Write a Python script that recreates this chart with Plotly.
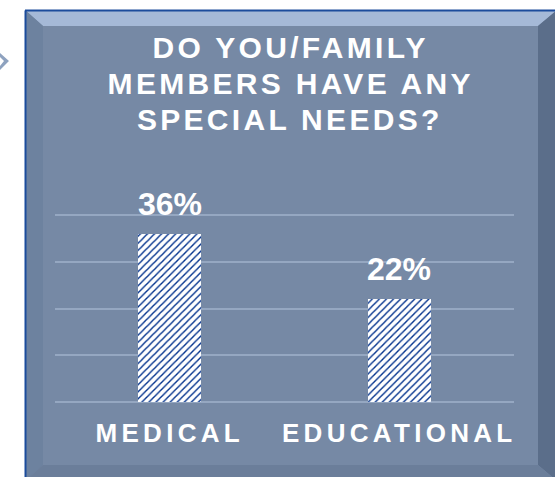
import plotly.graph_objects as go

# Survey result: share of respondents reporting special needs
categories = ["MEDICAL", "EDUCATIONAL"]
percent = [36, 22]
value_labels = ["36%", "22%"]
title_lines = ["DO YOU/FAMILY", "MEMBERS HAVE ANY", "SPECIAL NEEDS?"]

W, H = 555, 477
# plot-area edges in pixels
L, R, T, B = 55, 514, 192, 402
FONT = "Liberation Sans, Arial"


def px(x):
    return (x - L) / (R - L)


def py(y):
    return (B - y) / (B - T)


def poly(points, color, line=None):
    d = "M " + " L ".join(f"{px(x):.5f},{py(y):.5f}" for x, y in points) + " Z"
    return dict(type="path", path=d, xref="paper", yref="paper",
                fillcolor=color, line=line or dict(width=0), layer="below")


# bevelled panel behind the chart
ox0, oy0, ox1, oy1 = 25, 10, 557, 481
ix0, iy0, ix1, iy1 = 43, 26, 538, 465
shapes = [
    poly([(ox0, oy0), (ox1, oy0), (ox1, oy1), (ox0, oy1)], "#7689A5"),
    poly([(ox0, oy0), (ox1, oy0), (ix1, iy0), (ix0, iy0)], "#A5B9D7"),
    poly([(ox0, oy0), (ix0, iy0), (ix0, iy1), (ox0, oy1)], "#6D829F"),
    poly([(ox1, oy0), (ox1, oy1), (ix1, iy1), (ix1, iy0)], "#5B6E8A"),
    poly([(ox0, oy1), (ix0, iy1), (ix1, iy1), (ox1, oy1)], "#6B7E9A"),
    dict(type="line", xref="paper", yref="paper", layer="below",
         x0=px(ox0 + 0.5), y0=py(oy1), x1=px(ox0 + 0.5), y1=py(oy0 + 0.5),
         line=dict(color="#1C4C9C", width=2)),
    dict(type="line", xref="paper", yref="paper", layer="below",
         x0=px(ox0), y0=py(oy0 + 0.5), x1=px(ox1), y1=py(oy0 + 0.5),
         line=dict(color="#1C4C9C", width=2)),
    # small pointer at the left edge
    poly([(0, 53), (9, 61), (0, 70), (0, 66), (4, 61), (0, 57)], "#8EA2BF"),
]

fig = go.Figure(go.Bar(
    x=categories,
    y=percent,
    width=0.275,
    marker=dict(
        color="white",
        line=dict(width=0),
        pattern=dict(shape="/", fgcolor="#00308C", bgcolor="white",
                     fgopacity=1, size=5, solidity=0.28),
    ),
    hoverinfo="skip",
))

annotations = [
    dict(x=c, y=v, text=t, xref="x", yref="y", showarrow=False,
         yanchor="bottom", yshift=10,
         font=dict(family=FONT, size=32, color="white", weight="bold"))
    for c, v, t in zip(categories, percent, value_labels)
]
# headline, one annotation per line for tight leading
for i, line in enumerate(title_lines):
    annotations.append(dict(
        x=px(290), y=py(28.5 + 36 * i), xref="paper", yref="paper",
        showarrow=False, xanchor="center", yanchor="top",
        text=line, name="headline",
        font=dict(family=FONT, size=30, color="white", weight="bold"),
    ))

fig.update_layout(
    width=W, height=H,
    margin=dict(l=L, r=W - R, t=T, b=H - B, pad=0),
    paper_bgcolor="white",
    plot_bgcolor="rgba(0,0,0,0)",
    showlegend=False,
    shapes=shapes,
    annotations=annotations,
    bargap=0,
    xaxis=dict(
        range=[-0.5, 1.5], showgrid=False, zeroline=False, showline=False,
        ticks="", ticklabelstandoff=13,
        tickfont=dict(family=FONT, size=26, color="white", weight="bold"),
    ),
    yaxis=dict(
        range=[0, 45], tickvals=[0, 10, 20, 30, 40], showticklabels=False,
        showgrid=True, gridcolor="#95A7C1", gridwidth=2,
        zeroline=True, zerolinecolor="#95A7C1", zerolinewidth=2,
        showline=False, ticks="",
    ),
)

# widen the tracking of the headline and the category names
spacing_js = """
var gd = document.getElementById('{plot_id}');
gd.querySelectorAll('.annotation-text').forEach(function(t){
  if (t.textContent.indexOf('%') < 0) { t.style.letterSpacing = '3.3px'; }
});
gd.querySelectorAll('.xtick text').forEach(function(t){
  t.style.letterSpacing = '4.3px';
});
"""

fig.write_html("out.html", post_script=spacing_js)
